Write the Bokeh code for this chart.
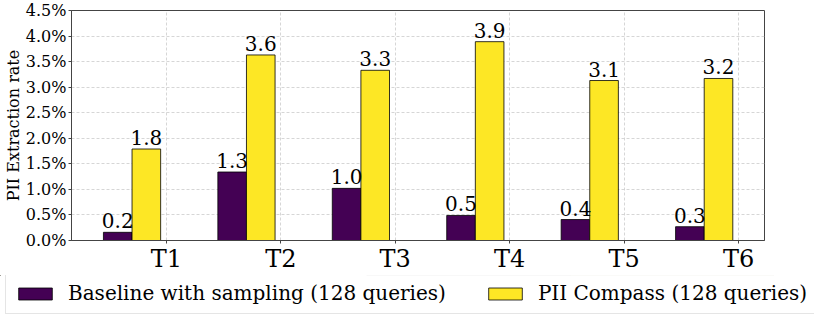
from bokeh.plotting import figure
from bokeh.layouts import column
from bokeh.models import (Range1d, FixedTicker, PrintfTickFormatter, Legend, LegendItem)
from bokeh.embed import file_html
from bokeh.resources import INLINE
from bokeh.core.properties import value

# ---- data ----
tasks = ["T1", "T2", "T3", "T4", "T5", "T6"]
baseline = [0.16, 1.34, 1.02, 0.49, 0.41, 0.27]
compass = [1.79, 3.63, 3.33, 3.89, 3.13, 3.17]
y_ticks = [0.0, 0.5, 1.0, 1.5, 2.0, 2.5, 3.0, 3.5, 4.0, 4.5]
series_names = ["Baseline with sampling (128 queries)", "PII Compass (128 queries)"]
colors = ["#440154", "#fde725"]
y_label = "PII Extraction rate"

FONT = "DejaVu Serif"
BAR_W = 0.25

idx = list(range(len(tasks)))
x_base = [i - 0.425 for i in idx]
x_comp = [i - 0.175 for i in idx]

p = figure(width=814, height=275, output_backend="svg", toolbar_location=None,
           x_range=Range1d(-0.829, 5.227), y_range=Range1d(0, 4.5),
           min_border_left=70, min_border_right=50, min_border_top=10,
           min_border_bottom=35)
p.frame_align = False

r1 = p.vbar(x=x_base, top=baseline, width=BAR_W, fill_color=colors[0],
            line_color="black", line_width=0.8)
r2 = p.vbar(x=x_comp, top=compass, width=BAR_W, fill_color=colors[1],
            line_color="black", line_width=0.8)

for xs, vals in ((x_base, baseline), (x_comp, compass)):
    p.text(x=xs, y=vals, text=[f"{v:.1f}" for v in vals], text_align="center",
           text_baseline="bottom", y_offset=-4, text_font=value(FONT),
           text_font_size="20px", text_color="black")

# axes
p.xaxis.ticker = FixedTicker(ticks=idx)
p.xaxis.major_label_overrides = {i: t for i, t in zip(idx, tasks)}
p.yaxis.ticker = FixedTicker(ticks=y_ticks)
p.yaxis.formatter = PrintfTickFormatter(format="%.1f%%")
p.xaxis.minor_tick_line_color = None
p.yaxis.minor_tick_line_color = None
for ax in (p.xaxis, p.yaxis):
    ax.major_tick_out = 3
    ax.major_tick_in = 0
    ax.major_tick_line_color = "#444444"
    ax.axis_line_color = "#444444"
    ax.major_label_text_font = FONT
    ax.major_label_text_color = "black"
    ax.major_label_standoff = 2
p.xaxis.major_label_text_font_size = "24px"
p.xaxis.major_label_standoff = 1
p.yaxis.major_label_text_font_size = "16px"
p.yaxis.axis_label = y_label
p.yaxis.axis_label_text_font = FONT
p.yaxis.axis_label_text_font_size = "16px"
p.yaxis.axis_label_text_font_style = "normal"
p.yaxis.axis_label_text_color = "black"
p.yaxis.axis_label_standoff = 0

p.outline_line_color = "#444444"
p.outline_line_width = 1

for g in (p.xgrid, p.ygrid):
    g.grid_line_color = "#cccccc"
    g.grid_line_dash = "3 2"
    g.grid_line_width = 0.8

# ---- legend strip (a separate full-width plot; its bars lie outside its range) ----
lg = figure(width=814, height=40, output_backend="svg", toolbar_location=None,
            x_range=Range1d(0, 1), y_range=Range1d(-2, -1),
            x_axis_location=None, y_axis_location=None,
            min_border_left=0, min_border_right=0, min_border_top=0,
            min_border_bottom=0)
lg.frame_align = False
lg.grid.visible = False
lg.outline_line_color = None
g1 = lg.vbar(x=x_base, top=baseline, width=BAR_W, fill_color=colors[0],
             line_color="black", line_width=0.8)
g2 = lg.vbar(x=x_comp, top=compass, width=BAR_W, fill_color=colors[1],
             line_color="black", line_width=0.8)

legend = Legend(items=[LegendItem(label=series_names[0], renderers=[g1]),
                       LegendItem(label=series_names[1], renderers=[g2])],
                orientation="horizontal", location=(5, 1),
                glyph_width=42, glyph_height=15, label_standoff=12,
                label_text_font=FONT, label_text_font_size="20px",
                label_text_color="black",
                spacing=38, padding=8, margin=0,
                border_line_color="#cccccc", border_line_width=1)
lg.add_layout(legend, "center")

layout = column(p, lg, spacing=0)
open("out.html", "w").write(file_html(layout, INLINE))
